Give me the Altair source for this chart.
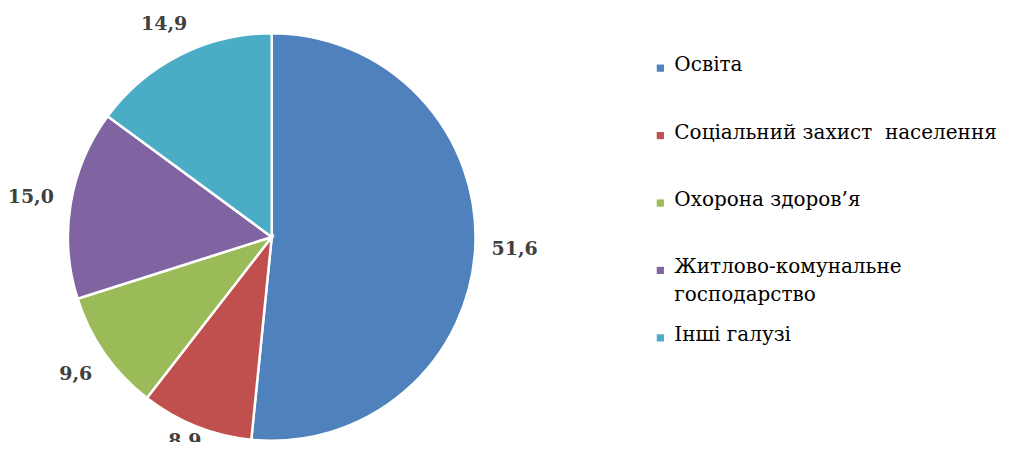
import altair as alt
import pandas as pd

categories = ["Освіта", "Соціальний захист  населення", "Охорона здоров’я",
              "Житлово-комунальне господарство", "Інші галузі"]
values = [51.6, 8.9, 9.6, 15.0, 14.9]
value_labels = ["51,6", "8.9", "9,6", "15,0", "14,9"]
legend_labels = ["Освіта", "Соціальний захист\u00a0 населення", "Охорона здоров’я",
                 "Житлово-комунальне\nгосподарство", "Інші галузі"]
colors = ["#4F81BD", "#C0504D", "#9BBB59", "#8064A2", "#4BACC6"]

df = pd.DataFrame({
    "category": categories,
    "value": values,
    "label": value_labels,
    "legend": legend_labels,
    "order": list(range(len(categories))),
})

W, H = 1000, 434
CX, CY, R = 264, 229, 204
LABEL_FONT = 19
GAP = 13
SERIF = "DejaVu Serif"

color = alt.Color("category:N", scale=alt.Scale(domain=categories, range=colors), legend=None)

base = alt.Chart(df)

pie = base.mark_arc(outerRadius=R, stroke="white", strokeWidth=2.5).encode(
    theta=alt.Theta("value:Q", stack=True),
    order=alt.Order("order:Q"),
    color=color,
    x=alt.value(CX), y=alt.value(CY),
)

labels = base.transform_joinaggregate(total="sum(value)").transform_window(
    cum="sum(value)", sort=[alt.SortField("order")], frame=[None, 0]
).transform_calculate(
    mid="(datum.cum - datum.value/2) / datum.total * 2 * PI",
    lr=f"{R + GAP} + abs(sin(datum.mid)) * length(datum.label) * 6.5 + abs(cos(datum.mid)) * 11",
    px=f"{CX} + datum.lr * sin(datum.mid)",
    py=f"min({CY} - datum.lr * cos(datum.mid), {H - 1})",
).mark_text(font=SERIF, fontSize=LABEL_FONT, fontWeight="bold",
            color="#404040", align="center", baseline="middle").encode(
    x=alt.X("px:Q", scale=None, axis=None),
    y=alt.Y("py:Q", scale=None, axis=None),
    text="label:N",
)

leg_y = alt.Y("order:O", scale=alt.Scale(type="point", range=[60, 330], padding=0), axis=None)

leg_sq = base.mark_square(size=52, opacity=1).encode(
    x=alt.value(653), y=leg_y, color=color,
)
leg_txt = base.mark_text(font=SERIF, fontSize=20, color="#000000",
                         align="left", baseline="top", dy=-13, lineBreak="\n",
                         lineHeight=28).encode(
    x=alt.value(667), y=leg_y, text="legend:N",
)

chart = alt.layer(pie, labels, leg_sq, leg_txt).resolve_scale(y="independent").properties(
    width=W, height=H, padding=0, autosize=alt.AutoSizeParams(type="none")
).configure_view(stroke=None)

chart.save("out.html", embed_options={"renderer": "svg", "actions": False})
